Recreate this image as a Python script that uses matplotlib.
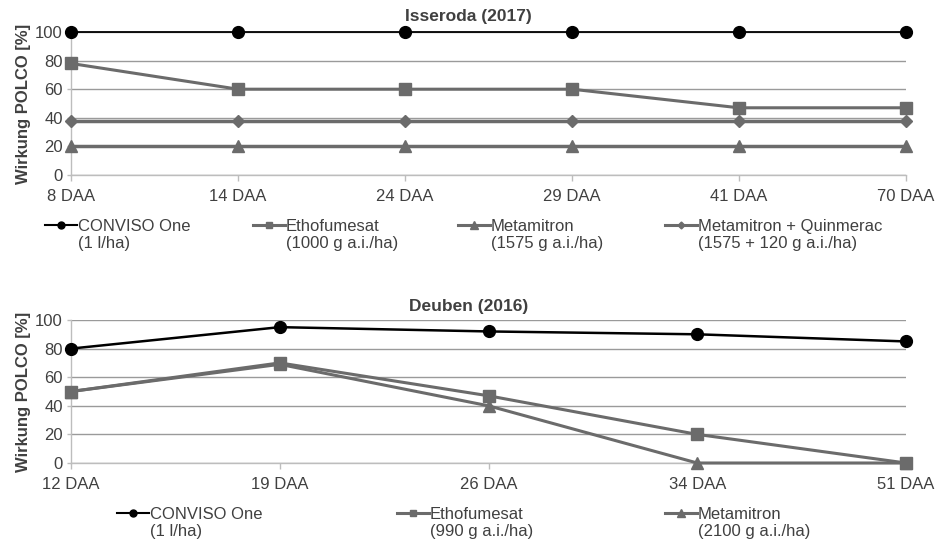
import matplotlib.pyplot as plt
from matplotlib.lines import Line2D

plt.rcParams['font.family'] = ['Liberation Sans', 'DejaVu Sans']

# Isseroda (2017)
days_top = ['8 DAA', '14 DAA', '24 DAA', '29 DAA', '41 DAA', '70 DAA']
conviso_top = [100, 100, 100, 100, 100, 100]
etho_top = [78, 60, 60, 60, 47, 47]
meta_top = [20, 20, 20, 20, 20, 20]
metaquin_top = [38, 38, 38, 38, 38, 38]

# Deuben (2016)
days_bot = ['12 DAA', '19 DAA', '26 DAA', '34 DAA', '51 DAA']
conviso_bot = [80, 95, 92, 90, 85]
etho_bot = [50, 70, 47, 20, 0]
meta_bot = [50, 69, 40, 0, 0]

labels_top = ['CONVISO One\n(1 l/ha)', 'Ethofumesat\n(1000 g a.i./ha)',
              'Metamitron\n(1575 g a.i./ha)', 'Metamitron + Quinmerac\n(1575 + 120 g a.i./ha)']
labels_bot = ['CONVISO One\n(1 l/ha)', 'Ethofumesat\n(990 g a.i./ha)',
              'Metamitron\n(2100 g a.i./ha)']

black = '#000000'
gray = '#6b6b6b'
txt = '#404040'
W, H = 942, 542

fig = plt.figure(figsize=(9.42, 5.42), dpi=100)
ax1 = fig.add_axes([71 / W, 1 - 175 / H, 835 / W, 143 / H])
ax2 = fig.add_axes([71 / W, 1 - 463 / H, 835 / W, 143 / H])


def style(ax, days):
    ax.set_xlim(0, len(days) - 1)
    ax.set_ylim(0, 100)
    ax.set_yticks(range(0, 101, 20))
    ax.set_xticks(range(len(days)))
    ax.set_xticklabels(days)
    ax.yaxis.grid(True, color='#9a9a9a', lw=1)
    ax.set_axisbelow(True)
    for s in ['top', 'right']:
        ax.spines[s].set_visible(False)
    for s in ['left', 'bottom']:
        ax.spines[s].set_color('#bdbdbd')
        ax.spines[s].set_linewidth(1)
    ax.tick_params(axis='both', colors='#bdbdbd', labelcolor=txt, labelsize=12, length=4, width=1)
    ax.tick_params(axis='y', pad=3, length=3)
    ax.tick_params(axis='x', pad=6)
    ax.set_ylabel('Wirkung POLCO [%]', fontsize=12, fontweight='bold', color=txt, labelpad=3)


style(ax1, days_top)
x1 = range(len(days_top))
ax1.plot(x1, metaquin_top, color=gray, lw=2.5, marker='D', ms=6, clip_on=False, zorder=3)
ax1.plot(x1, meta_top, color=gray, lw=2.5, marker='^', ms=9, clip_on=False, zorder=3)
ax1.plot(x1, etho_top, color=gray, lw=2.2, marker='s', ms=8.5, clip_on=False, zorder=4)
ax1.plot(x1, conviso_top, color=black, lw=1.3, marker='o', ms=8.5, clip_on=False, zorder=5)

style(ax2, days_bot)
x2 = range(len(days_bot))
ax2.plot(x2, meta_bot, color=gray, lw=2.2, marker='^', ms=9, clip_on=False, zorder=3)
ax2.plot(x2, etho_bot, color=gray, lw=2.2, marker='s', ms=8.5, clip_on=False, zorder=4)
ax2.plot(x2, conviso_bot, color=black, lw=1.8, marker='o', ms=8.5, clip_on=False, zorder=5)

fig.text(0.497, 1 - 16 / H, 'Isseroda (2017)', ha='center', va='center', fontsize=12.5,
         fontweight='bold', color=txt)
fig.text(0.497, 1 - 306 / H, 'Deuben (2016)', ha='center', va='center', fontsize=12.5,
         fontweight='bold', color=txt)


def legend_entry(x0, y, color, marker, ms, lw, label):
    line = Line2D([x0 / W, (x0 + 32) / W], [1 - y / H, 1 - y / H], color=color, lw=lw,
                  transform=fig.transFigure)
    mk = Line2D([(x0 + 16) / W], [1 - y / H], color=color, marker=marker, ms=ms, lw=0,
                transform=fig.transFigure)
    fig.add_artist(line)
    fig.add_artist(mk)
    fig.text((x0 + 33) / W, 1 - (y - 6) / H, label, ha='left', va='top', fontsize=12,
             color=txt, linespacing=1.15)


styles_top = [(black, 'o', 5, 1.5), (gray, 's', 5, 2.2), (gray, '^', 5.5, 2.2), (gray, 'D', 3.5, 2.2)]
for x0, st, lab in zip([45, 253, 458, 665], styles_top, labels_top):
    legend_entry(x0, 225, st[0], st[1], st[2], st[3], lab)

for x0, st, lab in zip([117, 397, 665], styles_top[:3], labels_bot):
    legend_entry(x0, 513, st[0], st[1], st[2], st[3], lab)

fig.savefig('out.png', dpi=100)
